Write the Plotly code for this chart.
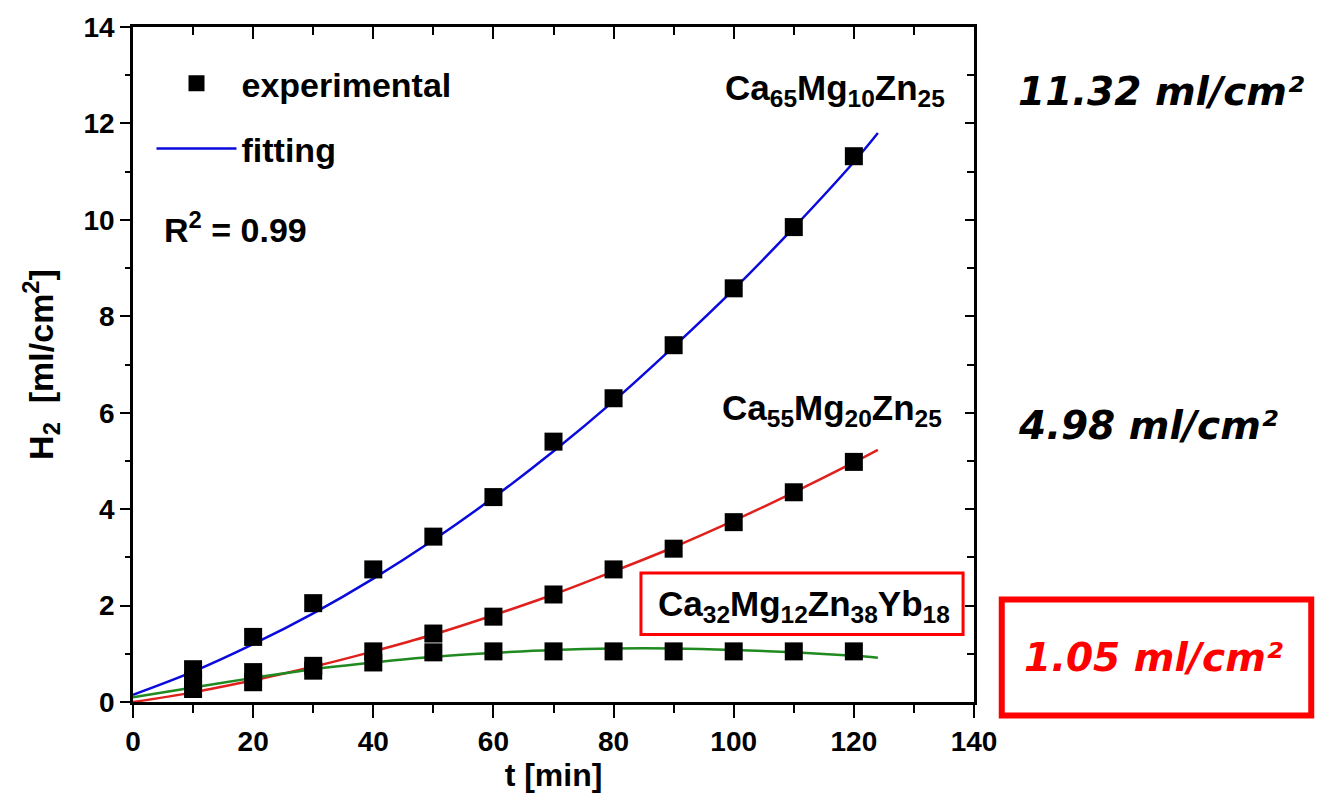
import plotly.graph_objects as go

# ---- data ----
t_exp = [10, 20, 30, 40, 50, 60, 70, 80, 90, 100, 110, 120]
h2_ca65 = [0.68, 1.35, 2.05, 2.75, 3.43, 4.25, 5.40, 6.30, 7.40, 8.58, 9.85, 11.32]
h2_ca55 = [0.27, 0.41, 0.65, 1.05, 1.42, 1.77, 2.23, 2.75, 3.18, 3.73, 4.35, 4.98]
h2_ca32 = [0.45, 0.62, 0.75, 0.82, 1.03, 1.05, 1.05, 1.05, 1.05, 1.05, 1.05, 1.05]

t_fit = [0, 10, 20, 30, 40, 50, 60, 70, 80, 90, 100, 110, 120, 124]
fit_ca65 = [0.15, 0.63, 1.20, 1.84, 2.56, 3.36, 4.24, 5.20, 6.24, 7.37, 8.56, 9.84, 11.20, 11.80]
fit_ca55 = [0.00, 0.20, 0.45, 0.73, 1.05, 1.40, 1.80, 2.23, 2.71, 3.21, 3.76, 4.35, 4.97, 5.23]
fit_ca32 = [0.10, 0.30, 0.50, 0.68, 0.82, 0.94, 1.02, 1.08, 1.11, 1.11, 1.08, 1.03, 0.96, 0.92]

x_ticks = [0, 20, 40, 60, 80, 100, 120, 140]
y_ticks = [0, 2, 4, 6, 8, 10, 12, 14]

FONT = "Liberation Sans, Arial, sans-serif"
BLUE = "#0a0adc"
RED = "#e0201c"
GREEN = "#1f8a1f"

fig = go.Figure()

marker = dict(symbol="square", size=18, color="black")

fig.add_trace(go.Scatter(x=t_fit, y=fit_ca65, mode="lines", line=dict(color=BLUE, width=2.5, shape="spline"),
                         name="fitting", legendgroup="b", legendrank=2))
fig.add_trace(go.Scatter(x=t_fit, y=fit_ca55, mode="lines", line=dict(color=RED, width=2.5, shape="spline"),
                         showlegend=False))
fig.add_trace(go.Scatter(x=t_fit, y=fit_ca32, mode="lines", line=dict(color=GREEN, width=2.5, shape="spline"),
                         showlegend=False))

fig.add_trace(go.Scatter(x=t_exp, y=h2_ca65, mode="markers", marker=marker,
                         name="experimental", legendgroup="a", legendrank=1))
fig.add_trace(go.Scatter(x=t_exp, y=h2_ca55, mode="markers", marker=marker, showlegend=False))
fig.add_trace(go.Scatter(x=t_exp, y=h2_ca32, mode="markers", marker=marker, showlegend=False))

fig.add_trace(go.Scatter(x=[0], y=[0], xaxis="x2", yaxis="y2", mode="markers",
                         marker=dict(opacity=0), showlegend=False, hoverinfo="skip"))

tickfont = dict(family=FONT, size=28, color="black", weight="bold")
titlefont = dict(family=FONT, size=32, color="black", weight="bold")

fig.update_layout(
    width=1320, height=799,
    margin=dict(l=133, r=346, t=20, b=97),
    paper_bgcolor="white", plot_bgcolor="white",
    showlegend=True,
    legend=dict(x=0.022, y=0.959, xanchor="left", yanchor="top",
                font=dict(family=FONT, size=34, color="black", weight="bold"),
                bgcolor="rgba(0,0,0,0)", traceorder="grouped", tracegroupgap=18,
                itemsizing="trace", itemwidth=80),
    xaxis=dict(range=[0, 140], tickvals=x_ticks, ticks="outside", ticklen=13, tickwidth=2,
               tickcolor="black", showline=True, linewidth=2.5, linecolor="black",
               showgrid=False, zeroline=False, tickfont=tickfont,
               minor=dict(dtick=10, ticks="outside", ticklen=8, tickwidth=2, tickcolor="black"),
               title=dict(text="t [min]", font=titlefont, standoff=2)),
    yaxis=dict(range=[0, 14], tickvals=y_ticks, ticks="outside", ticklen=10, tickwidth=2,
               tickcolor="black", showline=True, linewidth=2.5, linecolor="black",
               showgrid=False, zeroline=False, tickfont=tickfont,
               minor=dict(dtick=1, ticks="outside", ticklen=5, tickwidth=2, tickcolor="black"),
               title=dict(text="H<sub>2</sub>  [ml/cm<sup>2</sup>]",
                          font=dict(titlefont, size=34), standoff=20)),
    xaxis2=dict(overlaying="x", side="top", range=[0, 140], tickvals=x_ticks, ticks="inside",
                ticklen=12, tickwidth=2, tickcolor="black", showticklabels=False,
                showline=True, linewidth=2.5, linecolor="black", showgrid=False, zeroline=False,
                minor=dict(dtick=10, ticks="inside", ticklen=8, tickwidth=2, tickcolor="black")),
    yaxis2=dict(overlaying="y", side="right", range=[0, 14], tickvals=y_ticks, ticks="inside",
                ticklen=9, tickwidth=2, tickcolor="black", showticklabels=False,
                showline=True, linewidth=2.5, linecolor="black", showgrid=False, zeroline=False,
                minor=dict(dtick=1, ticks="inside", ticklen=7, tickwidth=2, tickcolor="black")),
)

labfont = dict(family=FONT, size=35, color="black", weight="bold")
fig.add_annotation(x=135.5, y=12.7, xref="x", yref="y", xanchor="right", yanchor="middle",
                   text="Ca<sub>65</sub>Mg<sub>10</sub>Zn<sub>25</sub>", showarrow=False, font=labfont)
fig.add_annotation(x=135.0, y=6.05, xref="x", yref="y", xanchor="right", yanchor="middle",
                   text="Ca<sub>55</sub>Mg<sub>20</sub>Zn<sub>25</sub>", showarrow=False, font=labfont)
fig.add_annotation(x=111.7, y=2.0, xref="x", yref="y", xanchor="center", yanchor="middle",
                   text="Ca<sub>32</sub>Mg<sub>12</sub>Zn<sub>38</sub>Yb<sub>18</sub>", showarrow=False, font=labfont)
fig.add_annotation(x=4.8, y=9.85, xref="x", yref="y", xanchor="left", yanchor="middle",
                   text="R<sup>2</sup> = 0.99", showarrow=False, font=dict(labfont, size=34))

fig.add_shape(type="rect", xref="paper", yref="paper", x0=0.604, x1=0.987, y0=0.100, y1=0.191,
              line=dict(color="#ff0000", width=3))

rfont = dict(family="DejaVu Sans, Verdana, sans-serif", size=39, color="black", weight="bold", style="italic")
fig.add_annotation(x=1.050, y=0.905, xref="paper", yref="paper", xanchor="left", yanchor="middle",
                   text="11.32 ml/cm²", showarrow=False, font=rfont)
fig.add_annotation(x=1.050, y=0.41, xref="paper", yref="paper", xanchor="left", yanchor="middle",
                   text="4.98 ml/cm²", showarrow=False, font=rfont)
fig.add_annotation(x=1.214, y=0.066, xref="paper", yref="paper", xanchor="center", yanchor="middle",
                   text="1.05 ml/cm²", showarrow=False, font=dict(rfont, color="#ff0000"))
fig.add_shape(type="rect", xref="paper", yref="paper", x0=1.033, x1=1.401, y0=-0.020, y1=0.152,
              line=dict(color="#ff0000", width=6))

fig.write_html("out.html")
